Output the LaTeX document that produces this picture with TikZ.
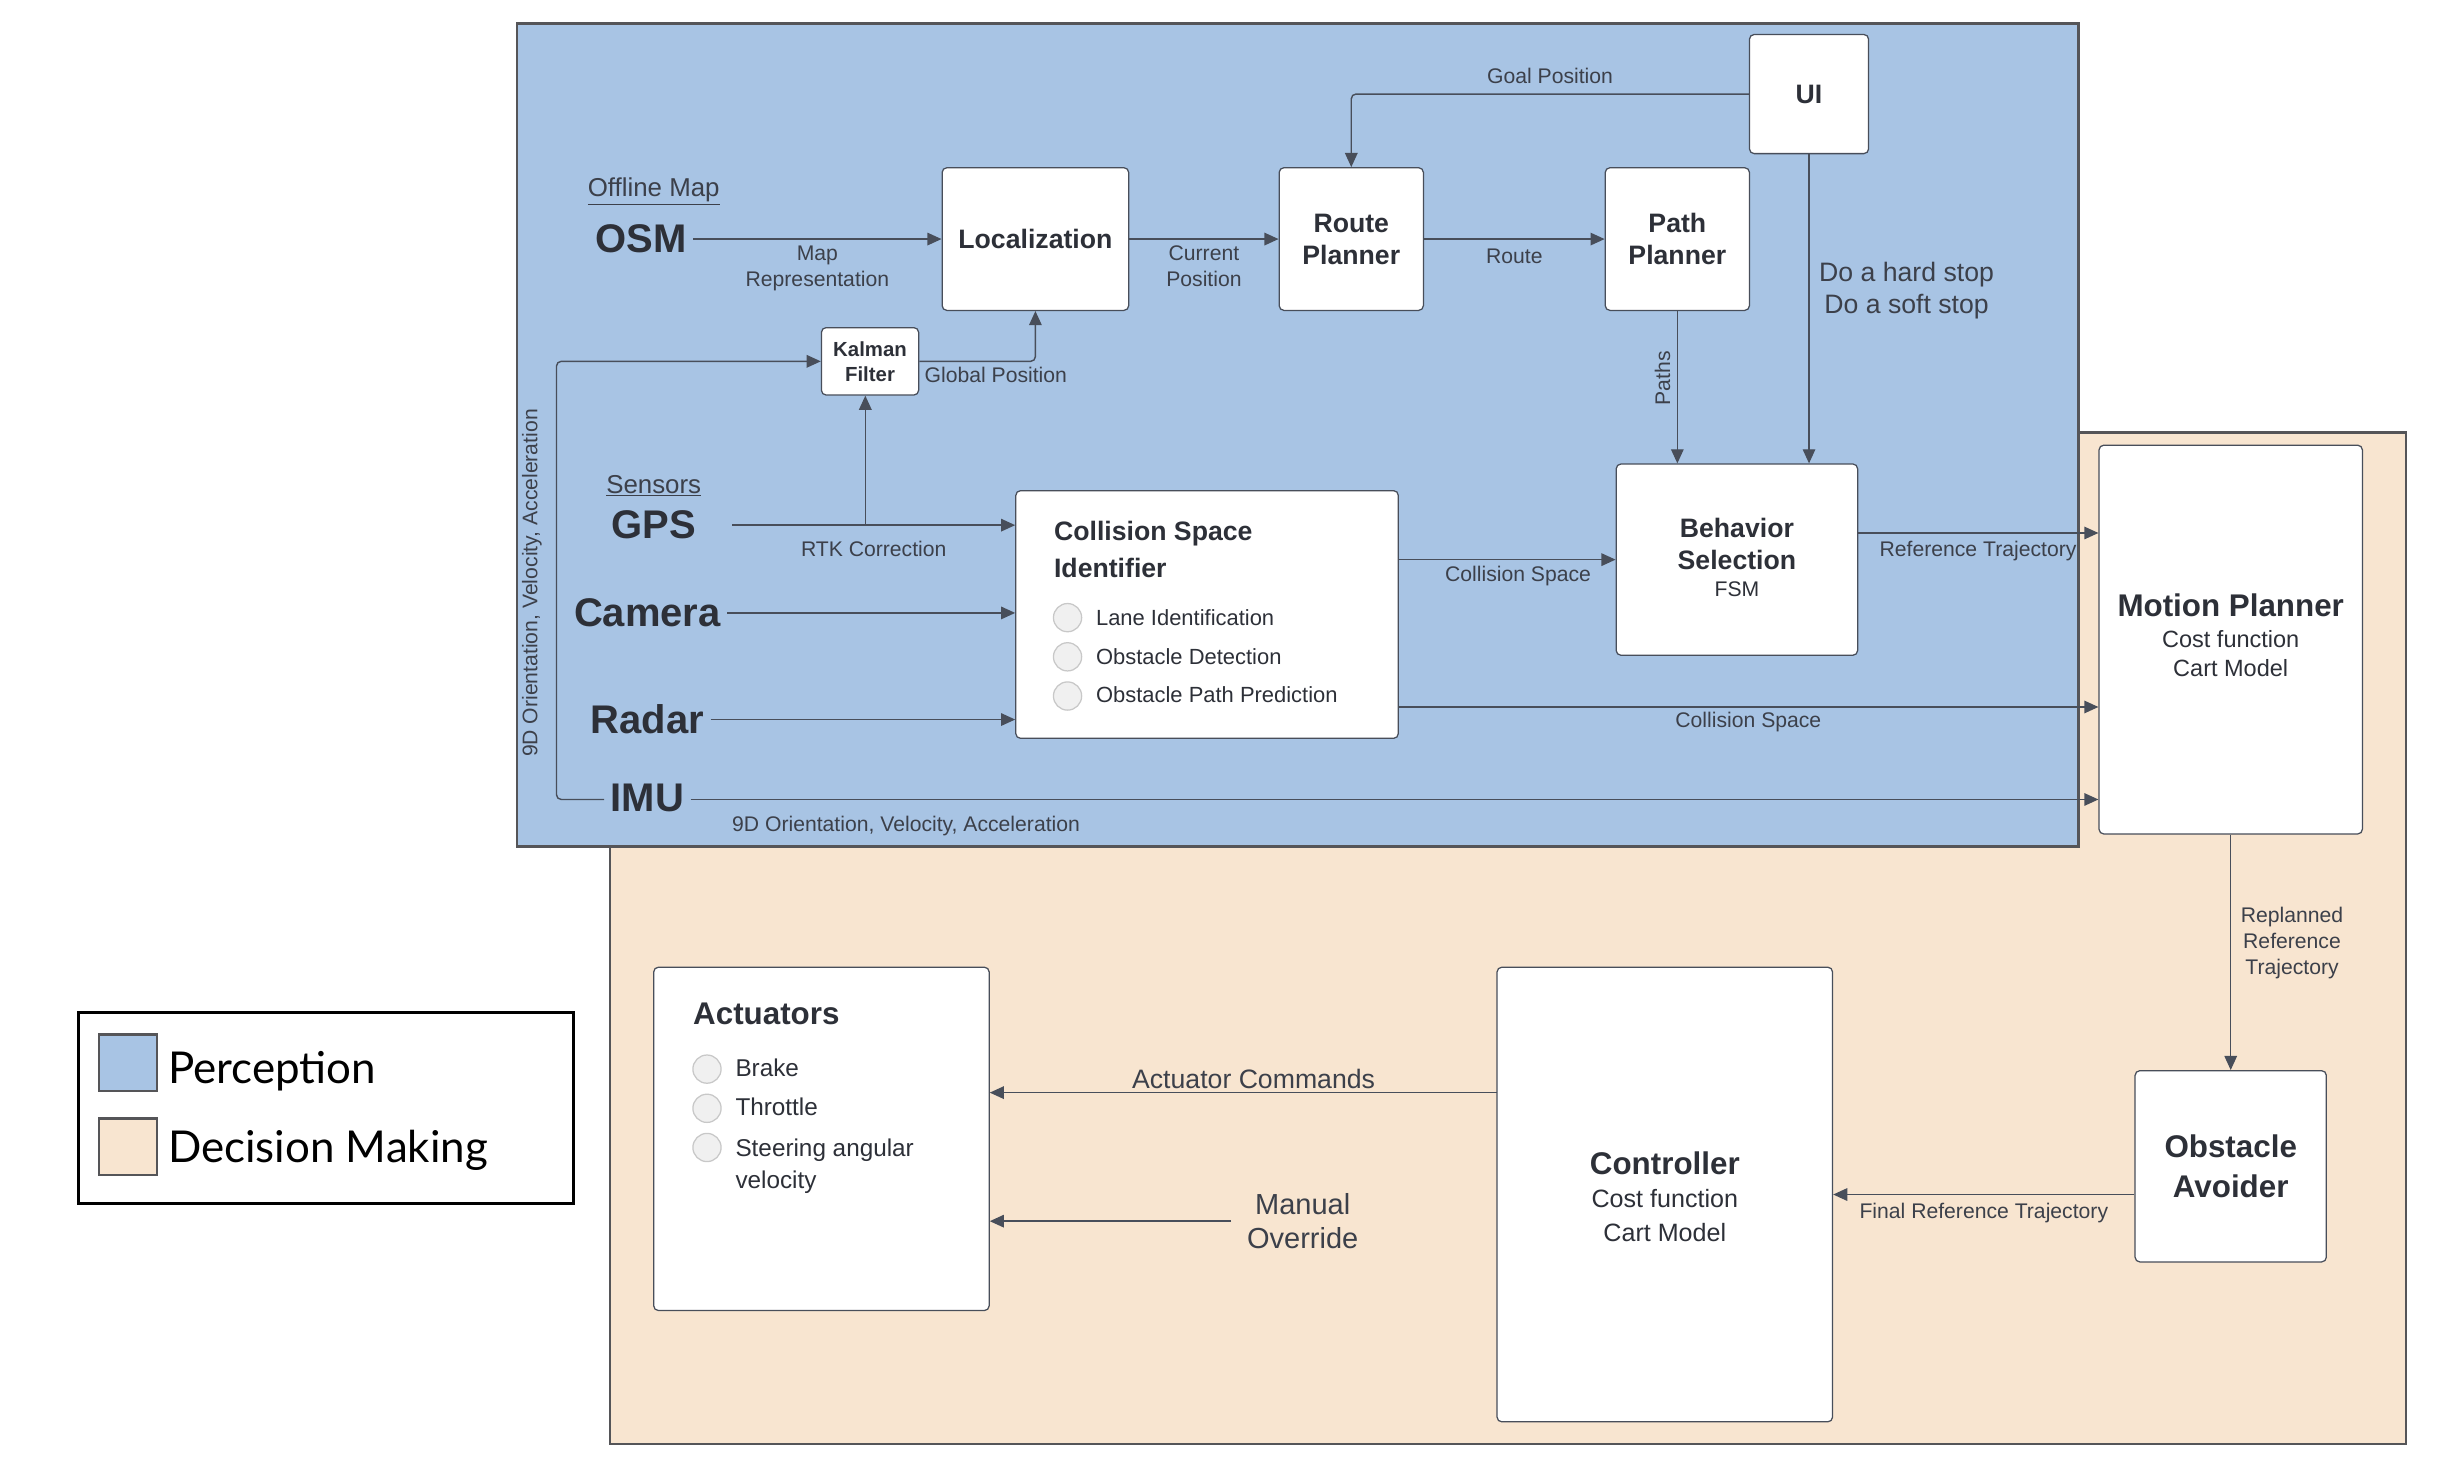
\documentclass[tikz,border=0pt]{standalone}
\usepackage{fontspec}
\setmainfont{Liberation Sans}
\newfontfamily\legendfont{Lato}
\usetikzlibrary{arrows.meta}

\definecolor{percblue}{RGB}{168,196,228}
\definecolor{decbeige}{RGB}{248,229,208}
\definecolor{framegray}{RGB}{85,85,88}
\definecolor{linegray}{RGB}{72,78,90}
\definecolor{titletext}{RGB}{45,48,56}
\definecolor{labeltext}{RGB}{60,64,74}
\definecolor{dotgray}{RGB}{240,240,240}
\definecolor{dotedge}{RGB}{200,200,200}

\begin{document}
\begin{tikzpicture}[x=1pt, y=-1pt,
  box/.style={draw=linegray, fill=white, rounded corners=3pt, line width=0.8pt, inner sep=0pt, align=center, text=titletext, font=\bfseries\fontsize{17}{20.5}\selectfont},
  boxtitle/.style={text=titletext, align=center, inner sep=0pt, font=\bfseries\fontsize{20}{25}\selectfont},
  boxtext/.style={text=titletext, align=center, inner sep=0pt, font=\fontsize{15}{18}\selectfont},
  head/.style={text=titletext, inner sep=4pt, font=\bfseries\fontsize{25.5}{30}\selectfont},
  group/.style={text=labeltext, inner sep=0pt, font=\fontsize{16.5}{20}\selectfont},
  lbl/.style={text=labeltext, align=center, inner sep=0pt, font=\fontsize{13.5}{16.5}\selectfont},
  item/.style={text=titletext, anchor=west, inner sep=0pt, align=left, font=\fontsize{14}{17}\selectfont},
  dot/.style={circle, draw=dotedge, fill=dotgray, line width=0.8pt, minimum size=18pt, inner sep=0pt},
  swatch/.style={draw=framegray, line width=1.5pt, minimum width=37pt, minimum height=36pt},
  conn/.style={draw=linegray, line width=0.9pt, rounded corners=3pt, -{Triangle[length=9pt,width=8pt]}}]

  \useasboundingbox (0,0) rectangle (1568,939);

  % regions
  \draw[fill=decbeige, draw=framegray, line width=1.5pt] (389,276) rectangle (1535,921);
  \draw[fill=percblue, draw=framegray, line width=1.5pt] (330,15) rectangle (1326,540);

  % inputs
  \node[group] (offline) at (417,122) {\underline{Offline Map}};
  \node[head] (osm) at (409,152.5) {OSM};
  \node[group] (sensors) at (417,310) {\underline{Sensors}};
  \node[head] (gps) at (417,335) {GPS};
  \node[head] (camera) at (413,391) {Camera};
  \node[head] (radar) at (413,459) {Radar};
  \node[head] (imu) at (413,509) {IMU};

  % perception blocks
  \node[box, minimum width=76pt, minimum height=76pt] (ui) at (1154,60) {UI};
  \node[box, minimum width=119pt, minimum height=91pt] (loc) at (660.5,152.5) {Localization};
  \node[box, minimum width=92pt, minimum height=91pt] (route) at (862,152.5) {Route\\Planner};
  \node[box, minimum width=92pt, minimum height=91pt] (path) at (1070,152.5) {Path\\Planner};
  \node[box, minimum width=62pt, minimum height=43pt, font=\bfseries\fontsize{13}{16}\selectfont] (kal) at (555,230.5) {Kalman\\Filter};

  \node[box, minimum width=244pt, minimum height=158pt] (csi) at (770,392) {};
  \node[box, anchor=west, draw=none, fill=none, align=left] (csititle) at (672,350.5) {Collision Space\\[2.5pt]Identifier};
  \node[dot] (lanedot) at (681,394) {};
  \node[item] (lane) at (699,394) {Lane Identification};
  \node[dot] (obsdot) at (681,419) {};
  \node[item] (obsdet) at (699,419) {Obstacle Detection};
  \node[dot] (preddot) at (681,444) {};
  \node[item] (obspred) at (699,443) {Obstacle Path Prediction};

  \node[box, minimum width=154pt, minimum height=122pt] (beh) at (1108,357) {};
  \node[box, draw=none, fill=none] (behtitle) at (1108,347) {Behavior\\Selection};
  \node[lbl, text=titletext] (fsm) at (1108,376) {FSM};

  % decision making blocks
  \node[box, minimum width=168pt, minimum height=248pt] (mot) at (1423,408) {};
  \node[boxtitle] (mottitle) at (1423,386) {Motion Planner};
  \node[boxtext] (mottext) at (1423,417) {Cost function\\Cart Model};

  \node[box, minimum width=122pt, minimum height=122pt, font=\bfseries\fontsize{20}{25}\selectfont] (obs) at (1423,744) {Obstacle\\Avoider};

  \node[box, minimum width=214pt, minimum height=290pt] (ctl) at (1062,762) {};
  \node[boxtitle] (ctltitle) at (1062,742) {Controller};
  \node[boxtext, font=\fontsize{16}{21.5}\selectfont] (ctltext) at (1062,775.5) {Cost function\\Cart Model};

  \node[box, minimum width=214pt, minimum height=219pt] (act) at (524,726.5) {};
  \node[boxtitle, anchor=west] (acttitle) at (442,647) {Actuators};
  \node[dot] (brakedot) at (451,682) {};
  \node[item, font=\fontsize{15.5}{21}\selectfont] (brake) at (469,681) {Brake};
  \node[dot] (throtdot) at (451,707) {};
  \node[item, font=\fontsize{15.5}{21}\selectfont] (throttle) at (469,706) {Throttle};
  \node[dot] (steerdot) at (451,732) {};
  \node[item, anchor=north west, font=\fontsize{15.5}{21}\selectfont] (steer) at (469,726) {Steering angular\\velocity};

  \node[lbl, inner sep=10pt, font=\fontsize{18.5}{22}\selectfont] (man) at (831,779) {Manual\\Override};

  % connectors
  \path
    (osm.east) edge[conn] node[lbl, below=4pt] {Map\\Representation} (loc.west)
    (loc.east) edge[conn] node[lbl, below=4pt] {Current\\Position} (route.west)
    (route.east) edge[conn] node[lbl, below=6pt] {Route} (path.west)
    ([xshift=19pt]gps.east) edge[conn] node[lbl, below=10pt] {RTK Correction} (gps.east -| csi.west)
    (camera.east) edge[conn] (camera.east -| csi.west)
    (radar.east) edge[conn] (radar.east -| csi.west)
    (csi.east |- beh.west) edge[conn] node[lbl, pos=0.55, below=4pt] {Collision Space} (beh.west)
    (path.south) edge[conn] node[lbl, pos=0.44, rotate=90, anchor=south, inner sep=4pt] {Paths} (path.south |- beh.north)
    (ui.south) edge[conn] node[lbl, pos=0.44, right=6pt, font=\fontsize{17}{20.5}\selectfont] {Do a hard stop\\Do a soft stop} (ui.south |- beh.north)
    (mot.south) edge[conn] node[lbl, pos=0.46, right=6pt] {Replanned\\Reference\\Trajectory} (obs.north)
    (obs.west |- ctl.east) edge[conn] node[lbl, below=5pt] {Final Reference Trajectory} (ctl.east)
    (man.west) edge[conn] (man.west -| act.east)
    ;

  \coordinate (rtk) at (552,335);
  \coordinate (refout) at (1185,340);
  \coordinate (csout) at (892,451);
  \coordinate (imuturn) at (355,510);
  \coordinate (cmdout) at (955,697);

  \draw[conn] (rtk) -- (rtk |- kal.south);
  \draw[conn] (ui.west) -| node[lbl, pos=0.25, above=6pt] {Goal Position} (route.north);
  \draw[conn] (kal.east) -| node[lbl, pos=0, anchor=north west, xshift=3pt, yshift=-3pt] {Global Position} (loc.south);
  \draw[conn] (refout) -- node[lbl, below=5pt] {Reference Trajectory} (refout -| mot.west);
  \draw[conn] (csout) -- node[lbl, below=3pt] {Collision Space} (csout -| mot.west);
  \draw[conn] (imu.east |- imuturn) -- node[lbl, pos=0.153, below=10pt] {9D Orientation, Velocity, Acceleration} (imuturn -| mot.west);
  \draw[conn] (imu.west |- imuturn) -- (imuturn) |- node[lbl, pos=0.247, rotate=90, anchor=south, inner sep=9pt] {9D Orientation, Velocity, Acceleration} (kal.west);
  \draw[conn] (cmdout) -- node[lbl, pos=0.48, above=2pt, font=\fontsize{17}{20}\selectfont] {Actuator Commands} (cmdout -| act.east);

  % legend
  \node[draw=black, line width=2pt, fill=white, minimum width=316pt, minimum height=122pt] (legend) at (208,707) {};
  \node[swatch, fill=percblue] (percsw) at (81.5,678) {};
  \node[anchor=west, inner sep=0pt, font=\legendfont\fontsize{28}{32}\selectfont] (perctext) at (107,683) {Perception};
  \node[swatch, fill=decbeige] (decsw) at (81.5,731.5) {};
  \node[anchor=west, inner sep=0pt, font=\legendfont\fontsize{28}{32}\selectfont] (dectext) at (107,734) {Decision Making};
\end{tikzpicture}
\end{document}
